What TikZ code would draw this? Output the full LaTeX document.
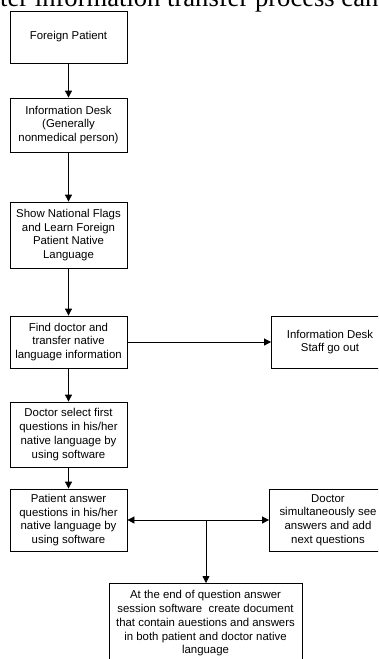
\documentclass[tikz,border=0pt]{standalone}
\usepackage{fontspec}
\setmainfont{Liberation Sans}
\newfontfamily\serifpart{Liberation Serif}
\usetikzlibrary{arrows.meta}
\begin{document}
\begin{tikzpicture}[x=1pt,y=-1pt,
 box/.style={draw, line width=0.8pt, align=center, font=\fontsize{11.4}{13.8}\selectfont, inner sep=0pt, minimum width=117pt},
 arr/.style={line width=0.8pt, -{Triangle[length=7pt,width=7pt]}},
 biarr/.style={line width=0.8pt, {Triangle[length=7pt,width=7pt]}-{Triangle[length=7pt,width=7pt]}}]
\useasboundingbox (0,0) rectangle (378,659);
\clip (0,0) rectangle (378,659);
\node[anchor=base west, font=\serifpart\fontsize{26.6}{30}\selectfont, inner sep=0pt] (title) at (0,6) {ter information transfer process can};
\node[box, minimum height=52pt] (b1) at (68.5,37) {Foreign Patient};
\node[box, minimum height=54pt] (b2) at (68.5,125) {Information Desk\\(Generally\\nonmedical person)};
\node[box, minimum height=66pt] (b3) at (68.5,235) {Show National Flags\\and Learn Foreign\\Patient Native\\Language};
\node[box, minimum height=52pt] (b4) at (68.5,342) {Find doctor and\\transfer native\\language information};
\node[box, minimum height=52pt] (b4r) at (330,342) {Information Desk\\Staff go out};
\node[box, minimum height=65pt] (b5) at (68.5,434.5) {Doctor select first\\questions in his/her\\native language by\\using software};
\node[box, minimum height=62pt] (b6) at (68.5,520) {Patient answer\\questions in his/her\\native language by\\using software};
\node[box, minimum height=62pt] (b7) at (328,520) {Doctor\\simultaneously see\\answers and add\\next questions};
\node[box, minimum width=193pt, minimum height=80pt, anchor=north] (b8) at (205.5,583) {At the end of question answer\\session software\ \ create document\\that contain auestions and answers\\in both patient and doctor native\\language};
\draw[arr] (b1) -- (b2);
\draw[arr] (b2) -- (b3);
\draw[arr] (b3) -- (b4);
\draw[arr] (b4) -- (b4r);
\draw[arr] (b4) -- (b5);
\draw[arr] (b5) -- (b6);
\draw[biarr] (b6) -- (b7);
\coordinate (j) at (206,520);
\draw[arr] (j) -- (j |- b8.north);
\end{tikzpicture}
\end{document}
